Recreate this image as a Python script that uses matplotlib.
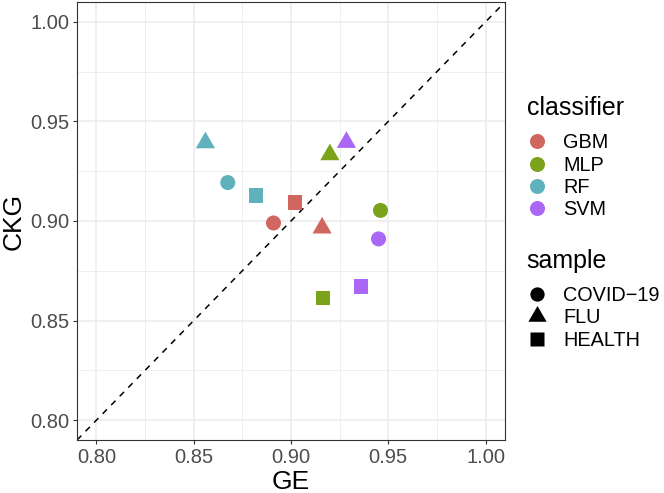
import matplotlib
matplotlib.use("Agg")
import matplotlib.pyplot as plt
from matplotlib.lines import Line2D
from matplotlib.path import Path
import numpy as np

plt.rcParams["font.family"] = ["Liberation Sans", "DejaVu Sans"]

classifiers = ["GBM", "MLP", "RF", "SVM"]
samples = ["COVID\u221219", "FLU", "HEALTH"]
colors = {"GBM": "#D0665F", "MLP": "#7AA21A", "RF": "#5FB2BB", "SVM": "#AA66F5"}

# GE (x) and CKG (y) per classifier, ordered as samples
ge = {
    "GBM": [0.891, 0.916, 0.902],
    "MLP": [0.946, 0.920, 0.9165],
    "RF":  [0.8675, 0.856, 0.882],
    "SVM": [0.945, 0.9285, 0.936],
}
ckg = {
    "GBM": [0.899, 0.8965, 0.9093],
    "MLP": [0.9053, 0.9333, 0.8613],
    "RF":  [0.9193, 0.9393, 0.9128],
    "SVM": [0.891, 0.9395, 0.867],
}

ticks = [0.80, 0.85, 0.90, 0.95, 1.00]

tri = Path([(0, 1), (-0.866, -0.5), (0.866, -0.5), (0, 1)],
           [Path.MOVETO, Path.LINETO, Path.LINETO, Path.CLOSEPOLY])
markers = {samples[0]: ("o", 117), samples[1]: (tri, 255), samples[2]: ("s", 109)}

fig = plt.figure(figsize=(6.64, 4.93), dpi=100)
ax = fig.add_axes([0.116, 0.1075, 0.6445, 0.8885])

ax.set_xlim(0.79, 1.01)
ax.set_ylim(0.79, 1.01)
minor = [0.825, 0.875, 0.925, 0.975]
ax.set_xticks(ticks)
ax.set_yticks(ticks)
ax.set_xticks(minor, minor=True)
ax.set_yticks(minor, minor=True)
ax.set_xticklabels([f"{t:.2f}" for t in ticks])
ax.set_yticklabels([f"{t:.2f}" for t in ticks])
ax.grid(True, which="major", color="#EBEBEB", linewidth=1.1)
ax.grid(True, which="minor", color="#EBEBEB", linewidth=0.55)
ax.set_axisbelow(True)
ax.tick_params(which="minor", length=0)
ax.tick_params(which="major", length=3.2, width=0.8, color="#333333",
               labelsize=14.5, labelcolor="#4D4D4D", pad=2.5)
for sp in ax.spines.values():
    sp.set_color("#333333")
    sp.set_linewidth(0.8)

ax.plot([0.79, 1.01], [0.79, 1.01], linestyle=(0, (4, 4)), color="black",
        linewidth=1.1, zorder=2)

for c in classifiers:
    for i, s in enumerate(samples):
        m, sz = markers[s]
        ax.scatter(ge[c][i], ckg[c][i], marker=m, s=sz, color=colors[c],
                   edgecolors="none", zorder=3)

ax.set_xlabel("GE", fontsize=19, labelpad=2.5)
ax.set_ylabel("CKG", fontsize=19, labelpad=3)

h1 = [Line2D([], [], linestyle="none", marker="o", markersize=10.8,
             markerfacecolor=colors[c], markeredgecolor="none") for c in classifiers]
h2 = [Line2D([], [], linestyle="none", marker=markers[s][0],
             markersize=np.sqrt(markers[s][1]) * 0.95,
             markerfacecolor="black", markeredgecolor="none") for s in samples]

common = dict(loc="upper left", frameon=False, fontsize=14.3, title_fontsize=18,
              alignment="left", handlelength=1.1, handletextpad=0.75,
              labelspacing=0.16, borderaxespad=0, borderpad=0)
leg1 = fig.legend(h1, classifiers, title="classifier",
                  bbox_to_anchor=(0.793, 0.805), **common)
leg2 = fig.legend(h2, samples, title="sample",
                  bbox_to_anchor=(0.793, 0.495), **common)
# wider gap between legend title and its keys, as in ggplot
for leg in (leg1, leg2):
    leg._legend_box.sep = 9.5

fig.savefig("out.png", dpi=100)
